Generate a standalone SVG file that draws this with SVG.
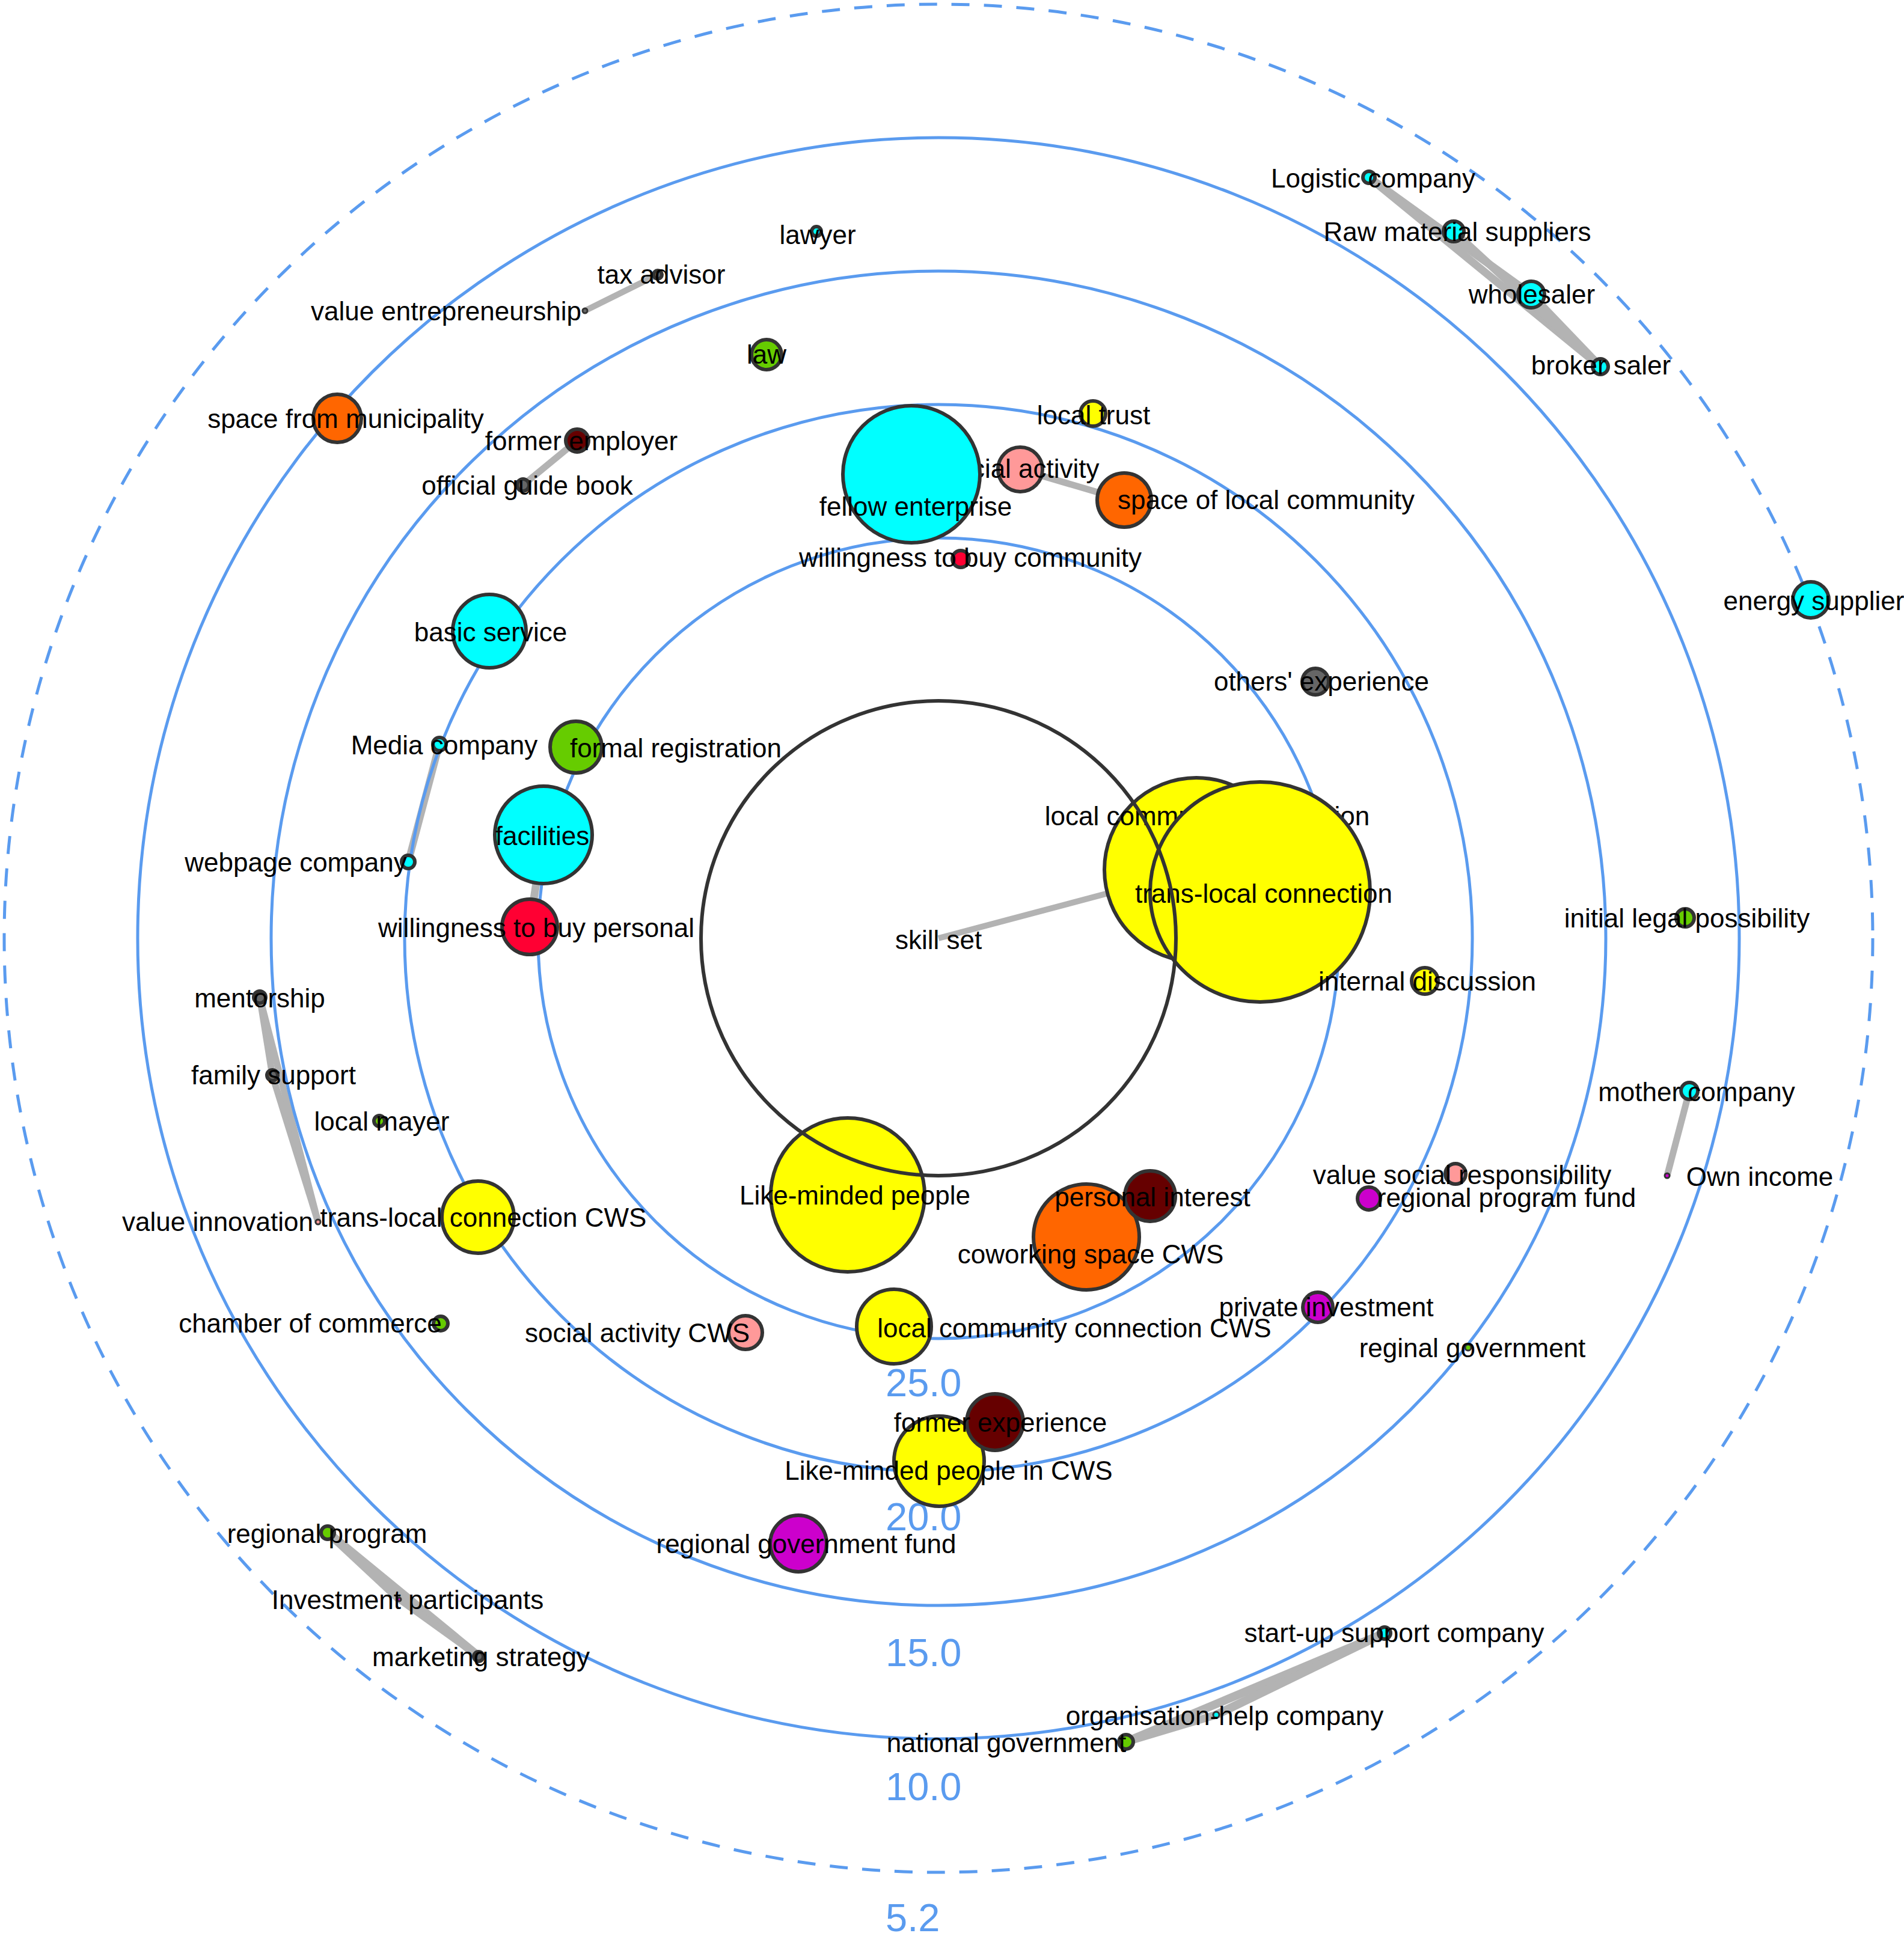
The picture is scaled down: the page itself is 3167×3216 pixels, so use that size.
<svg xmlns="http://www.w3.org/2000/svg" width="3167" height="3216" viewBox="0 0 3167 3216">
<style>
.ring{fill:none;stroke:#5A9BEF;stroke-width:5}
.dash{stroke-dasharray:30 24}
.edge{stroke:#B3B3B3;fill:none}
.node{stroke:#333333;stroke-width:6}
.tiny{stroke:#333333;stroke-width:3}
.lbl{font-family:"Liberation Sans",Arial,sans-serif;font-size:44px;fill:#000000;text-anchor:middle}
.axis{font-family:"Liberation Sans",Arial,sans-serif;font-size:65px;fill:#5A9BEF}
.cy{fill:#00FFFF}.ye{fill:#FFFF00}.gr{fill:#66CC00}.or{fill:#FF6600}.dr{fill:#660000}
.pk{fill:#FF9999}.mg{fill:#CC00CC}.rd{fill:#FF0033}.gy{fill:#666666}
</style>
<rect width="3167" height="3216" fill="#FFFFFF"/>
<g id="connectors">
<line class="edge" stroke-width="10" x1="1561" y1="1561" x2="1990" y2="1447"/>
<line class="edge" stroke-width="11" x1="1697" y1="781" x2="1870" y2="832"/>
<line class="edge" stroke-width="10" x1="1094" y1="457" x2="973" y2="517"/>
<line class="edge" stroke-width="11" x1="960" y1="733" x2="870" y2="807"/>
<line class="edge" stroke-width="12" x1="731" y1="1238" x2="679" y2="1434"/>
<line class="edge" stroke-width="13" x1="904" y1="1389" x2="881" y2="1542"/>
<line class="edge" stroke-width="11" x1="432" y1="1659" x2="453" y2="1789"/>
<line class="edge" stroke-width="11" x1="453" y1="1789" x2="529" y2="2033"/>
<line class="edge" stroke-width="11" x1="432" y1="1659" x2="529" y2="2033"/>
<line class="edge" stroke-width="11" x1="2810" y1="1815" x2="2773" y2="1956"/>
<line class="edge" stroke-width="13" x1="2277" y1="295" x2="2547" y2="490"/>
<line class="edge" stroke-width="13" x1="2277" y1="295" x2="2662" y2="610"/>
<line class="edge" stroke-width="13" x1="2418" y1="385" x2="2662" y2="610"/>
<line class="edge" stroke-width="13" x1="2547" y1="490" x2="2662" y2="610"/>
<line class="edge" stroke-width="15" x1="545" y1="2550" x2="796" y2="2756"/>
<line class="edge" stroke-width="13" x1="545" y1="2550" x2="664" y2="2661"/>
<line class="edge" stroke-width="11" x1="664" y1="2661" x2="796" y2="2756"/>
<line class="edge" stroke-width="14" x1="2303" y1="2717" x2="1873" y2="2898"/>
<line class="edge" stroke-width="14" x1="2303" y1="2717" x2="2023" y2="2853"/>
<line class="edge" stroke-width="13" x1="2023" y1="2853" x2="1873" y2="2898"/>
</g>
<g id="rings">
<circle class="ring" cx="1561" cy="1561" r="666"/>
<circle class="ring" cx="1561" cy="1561" r="888"/>
<circle class="ring" cx="1561" cy="1561" r="1110"/>
<circle class="ring" cx="1561" cy="1561" r="1332"/>
<circle class="ring dash" cx="1561" cy="1561" r="1554"/>
<text class="axis" x="1473" y="2323">25.0</text>
<text class="axis" x="1473" y="2546">20.0</text>
<text class="axis" x="1473" y="2772">15.0</text>
<text class="axis" x="1473" y="2995">10.0</text>
<text class="axis" x="1473" y="3213">5.2</text>
</g>
<g id="n-local-community-connection"><circle class="node ye" cx="1990" cy="1447" r="153"/><text class="lbl" x="2008" y="1373">local community connection</text></g>
<g id="n-trans-local-connection"><circle class="node ye" cx="2096" cy="1484" r="183"/><text class="lbl" x="2102" y="1502">trans-local connection</text></g>
<g id="n-social-activity"><circle class="node pk" cx="1697" cy="781" r="37"/><text class="lbl" x="1699" y="795">social activity</text></g>
<g id="n-fellow-enterprise"><circle class="node cy" cx="1516" cy="789" r="114"/><text class="lbl" x="1523" y="858">fellow enterprise</text></g>
<g id="n-space-of-local-community"><circle class="node or" cx="1870" cy="832" r="45"/><text class="lbl" x="2106" y="847">space of local community</text></g>
<g id="n-local-trust"><circle class="node ye" cx="1818" cy="688" r="21"/><text class="lbl" x="1819" y="706">local trust</text></g>
<g id="n-willingness-community"><circle class="node rd" cx="1598" cy="930" r="14"/><text class="lbl" x="1614" y="943">willingness to buy community</text></g>
<g id="n-law"><circle class="node gr" cx="1275" cy="590" r="25"/><text class="lbl" x="1275" y="605">law</text></g>
<g id="n-lawyer"><circle class="node cy" cx="1358" cy="385" r="8"/><text class="lbl" x="1360" y="406">lawyer</text></g>
<g id="n-tax-advisor"><circle class="node gy" cx="1094" cy="457" r="7"/><text class="lbl" x="1100" y="472">tax advisor</text></g>
<g id="n-value-entrepreneurship"><circle class="tiny gy" cx="973" cy="517" r="4"/><text class="lbl" x="742" y="533">value entrepreneurship</text></g>
<g id="n-space-from-municipality"><circle class="node or" cx="561" cy="696" r="40"/><text class="lbl" x="575" y="712">space from municipality</text></g>
<g id="n-former-employer"><circle class="node dr" cx="960" cy="733" r="19"/><text class="lbl" x="967" y="749">former employer</text></g>
<g id="n-official-guide-book"><circle class="node gy" cx="870" cy="807" r="10"/><text class="lbl" x="877" y="823">official guide book</text></g>
<g id="n-basic-service"><circle class="node cy" cx="814" cy="1050" r="61"/><text class="lbl" x="816" y="1067">basic service</text></g>
<g id="n-media-company"><circle class="node cy" cx="731" cy="1238" r="11"/><text class="lbl" x="739" y="1255">Media company</text></g>
<g id="n-webpage-company"><circle class="node cy" cx="679" cy="1434" r="11"/><text class="lbl" x="492" y="1450">webpage company</text></g>
<g id="n-formal-registration"><circle class="node gr" cx="958" cy="1243" r="43"/><text class="lbl" x="1124" y="1260">formal registration</text></g>
<g id="n-facilities"><circle class="node cy" cx="904" cy="1389" r="81"/><text class="lbl" x="902" y="1406">facilities</text></g>
<g id="n-willingness-personal"><circle class="node rd" cx="881" cy="1542" r="46"/><text class="lbl" x="892" y="1559">willingness to buy personal</text></g>
<g id="n-others-experience"><circle class="node gy" cx="2188" cy="1134" r="22"/><text class="lbl" x="2198" y="1149">others' experience</text></g>
<g id="n-internal-discussion"><circle class="node ye" cx="2370" cy="1632" r="22"/><text class="lbl" x="2374" y="1648">internal discussion</text></g>
<g id="n-initial-legal-possibility"><circle class="node gr" cx="2803" cy="1527" r="15"/><text class="lbl" x="2806" y="1543">initial legal possibility</text></g>
<g id="n-mother-company"><circle class="node cy" cx="2810" cy="1815" r="14"/><text class="lbl" x="2822" y="1832">mother company</text></g>
<g id="n-own-income"><circle class="tiny mg" cx="2773" cy="1956" r="4"/><text class="lbl" x="2927" y="1973">Own income</text></g>
<g id="n-value-social-responsibility"><circle class="node pk" cx="2421" cy="1953" r="17"/><text class="lbl" x="2432" y="1970">value social responsibility</text></g>
<g id="n-regional-program-fund"><circle class="node mg" cx="2277" cy="1994" r="19"/><text class="lbl" x="2506" y="2008">regional program fund</text></g>
<g id="n-private-investment"><circle class="node mg" cx="2192" cy="2175" r="25"/><text class="lbl" x="2206" y="2190">private investment</text></g>
<g id="n-reginal-government"><circle class="tiny gr" cx="2442" cy="2242" r="5"/><text class="lbl" x="2449" y="2258">reginal government</text></g>
<g id="n-energy-supplier"><circle class="node cy" cx="3012" cy="998" r="30"/><text class="lbl" x="3017" y="1015">energy supplier</text></g>
<g id="n-logistic-company"><circle class="node cy" cx="2277" cy="295" r="10"/><text class="lbl" x="2284" y="312">Logistic company</text></g>
<g id="n-raw-material-suppliers"><circle class="node cy" cx="2418" cy="385" r="17"/><text class="lbl" x="2424" y="401">Raw material suppliers</text></g>
<g id="n-wholesaler"><circle class="node cy" cx="2547" cy="490" r="22"/><text class="lbl" x="2548" y="505">wholesaler</text></g>
<g id="n-broker-saler"><circle class="node cy" cx="2662" cy="610" r="13"/><text class="lbl" x="2663" y="623">broker saler</text></g>
<g id="n-mentorship"><circle class="node gy" cx="432" cy="1659" r="10"/><text class="lbl" x="432" y="1676">mentorship</text></g>
<g id="n-family-support"><circle class="node gy" cx="453" cy="1789" r="9"/><text class="lbl" x="455" y="1804">family support</text></g>
<g id="n-local-mayer"><circle class="node gr" cx="631" cy="1865" r="9"/><text class="lbl" x="635" y="1881">local mayer</text></g>
<g id="n-value-innovation"><circle class="tiny pk" cx="529" cy="2033" r="4"/><text class="lbl" x="362" y="2048">value innovation</text></g>
<g id="n-trans-local-connection-cws"><circle class="node ye" cx="795" cy="2025" r="60"/><text class="lbl" x="804" y="2041">trans-local connection CWS</text></g>
<g id="n-chamber-of-commerce"><circle class="node gr" cx="733" cy="2202" r="12"/><text class="lbl" x="516" y="2217">chamber of commerce</text></g>
<g id="n-social-activity-cws"><circle class="node pk" cx="1240" cy="2217" r="28"/><text class="lbl" x="1060" y="2233">social activity CWS</text></g>
<g id="n-like-minded-people"><circle class="node ye" cx="1410" cy="1988" r="128"/><text class="lbl" x="1422" y="2004">Like-minded people</text></g>
<g id="n-coworking-space-cws"><circle class="node or" cx="1807" cy="2058" r="88"/><text class="lbl" x="1814" y="2102">coworking space CWS</text></g>
<g id="n-personal-interest"><circle class="node dr" cx="1913" cy="1990" r="42"/><text class="lbl" x="1917" y="2007">personal interest</text></g>
<g id="n-local-community-connection-cws"><circle class="node ye" cx="1487" cy="2207" r="62"/><text class="lbl" x="1787" y="2225">local community connection CWS</text></g>
<g id="n-like-minded-people-cws"><circle class="node ye" cx="1562" cy="2431" r="75"/><text class="lbl" x="1578" y="2462">Like-minded people in CWS</text></g>
<g id="n-former-experience"><circle class="node dr" cx="1655" cy="2366" r="47"/><text class="lbl" x="1664" y="2382">former experience</text></g>
<g id="n-regional-government-fund"><circle class="node mg" cx="1328" cy="2568" r="47"/><text class="lbl" x="1341" y="2584">regional government fund</text></g>
<g id="n-regional-program"><circle class="node gr" cx="545" cy="2550" r="11"/><text class="lbl" x="544" y="2567">regional program</text></g>
<g id="n-investment-participants"><circle class="tiny mg" cx="664" cy="2661" r="3"/><text class="lbl" x="678" y="2677">Investment participants</text></g>
<g id="n-marketing-strategy"><circle class="node gy" cx="796" cy="2756" r="8"/><text class="lbl" x="800" y="2772">marketing strategy</text></g>
<g id="n-start-up-support-company"><circle class="node cy" cx="2303" cy="2717" r="10"/><text class="lbl" x="2319" y="2732">start-up support company</text></g>
<g id="n-organisation-help-company"><circle class="tiny cy" cx="2023" cy="2853" r="5"/><text class="lbl" x="2037" y="2870">organisation-help company</text></g>
<g id="n-national-government"><circle class="node gr" cx="1873" cy="2898" r="12"/><text class="lbl" x="1674" y="2915">national government</text></g>
<g id="n-skill-set"><circle cx="1561" cy="1561" r="395" fill="none" stroke="#333333" stroke-width="6"/><text class="lbl" x="1561" y="1579">skill set</text></g>
</svg>
